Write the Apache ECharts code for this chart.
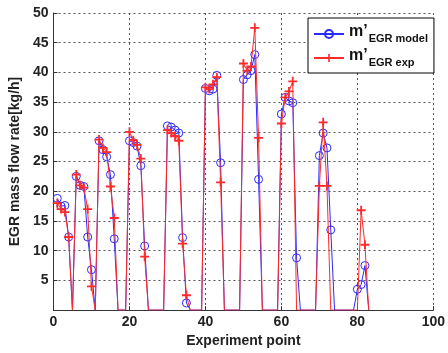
<!DOCTYPE html>
<html>
<head>
<meta charset="utf-8">
<script src="https://cdn.jsdelivr.net/npm/echarts@6/dist/echarts.min.js"></script>
<style>
html,body{margin:0;padding:0;background:#fff;}
#c{width:448px;height:353px;}
</style>
</head>
<body>
<div id="c"></div>
<script>
// Experiment point index
var expPoints = [1,2,3,4,5,6,7,8,9,10,11,12,13,14,15,16,17,18,19,20,21,22,23,24,25,26,27,28,29,30,31,32,33,34,35,36,37,38,39,40,41,42,43,44,45,46,47,48,49,50,51,52,53,54,55,56,57,58,59,60,61,62,63,64,65,66,67,68,69,70,71,72,73,74,75,76,77,78,79,80,81,82,83];
// m'EGR model [kg/h]
var modelValues = [18.8,17.5,17.6,12.3,0, 22.5,21.0,20.8,12.3,6.8,0, 28.5,27.0,25.8,22.8,12.0,0,0,0, 28.5,28.2,27.6,24.3,10.8,0,0,0,0,0, 31.0,30.8,30.3,29.8,12.2,1.2,0,0,0,0, 37.3,36.9,37.2,39.5,24.8,0,0,0,0,0, 38.8,39.6,40.3,43.0,22.0,0,0,0,0,0, 33.0,35.8,35.2,34.9,8.8,0,0,0,0,0, 26.0,29.8,27.3,13.5,0,0,0,0,0,0, 3.5,4.3,7.5,0];
// m'EGR exp [kg/h]
var expValues = [18.0,17.0,16.5,12.3,0, 22.8,21.0,20.6,17.0,4.0,0, 28.7,27.3,26.6,20.8,15.5,0,0,0, 30.0,28.6,27.8,25.5,9.0,0,0,0,0,0, 30.3,29.8,29.3,28.5,11.2,2.5,0,0,0,0, 37.5,37.2,38.0,39.2,21.5,0,0,0,0,0, 41.5,40.3,41.0,47.5,29.0,0,0,0,0,0, 31.4,35.8,36.8,38.5,0,0,0,0,0,0, 20.9,31.6,20.9,0,0,0,0,0,0,0, 0,16.8,11.0,0];
var xTicks = [0,20,40,60,80,100];
var yTicks = [5,10,15,20,25,30,35,40,45,50];
var seriesNames = ['EGR model','EGR exp'];

var FONT = '"Liberation Sans", Arial, sans-serif';
function build(vals){
  return expPoints.map(function(x,i){
    var v = vals[i];
    return v === 0 ? {value:[x,v], symbol:'none'} : {value:[x,v]};
  });
}
var chart = echarts.init(document.getElementById('c'), null, {renderer:'canvas'});
chart.setOption({
  animation:false,
  backgroundColor:'#fff',
  grid:{left:49,right:14,top:13,bottom:36},
  legend:{
    orient:'vertical', left:308, top:18,
    padding:[6,6,5,5], itemGap:4, itemWidth:30, itemHeight:10,
    borderColor:'#000', borderWidth:1, backgroundColor:'#fff',
    formatter:function(name){ return '{m|m\u2019}{s|'+name+'}'; },
    textStyle:{
      fontFamily:FONT, color:'#111',
      rich:{
        m:{fontSize:16,fontWeight:'bold',fontFamily:FONT,color:'#111',lineHeight:20,verticalAlign:'top'},
        s:{fontSize:11,fontWeight:'bold',fontFamily:FONT,color:'#111',lineHeight:20,verticalAlign:'bottom',padding:[8,0,0,1]}
      }
    },
    data:seriesNames
  },
  xAxis:{
    type:'value', min:0, max:100, interval:20,
    name:'Experiment point', nameLocation:'middle', nameGap:20,
    nameTextStyle:{fontFamily:FONT,fontWeight:'bold',fontSize:14,color:'#222'},
    axisLine:{show:true,onZero:false,lineStyle:{color:'#333',width:1}},
    axisTick:{show:true,inside:true,length:4,lineStyle:{color:'#333'}},
    axisLabel:{fontFamily:FONT,fontWeight:'bold',fontSize:14,color:'#222',margin:5,
      formatter:function(v){ return xTicks.indexOf(v)>=0 ? String(v) : ''; }},
    splitLine:{show:true,lineStyle:{color:'#555',type:[2,3],width:1}}
  },
  yAxis:{
    type:'value', min:0, max:50, interval:5,
    name:'EGR mass flow rate[kg/h]', nameLocation:'middle', nameGap:28,
    nameTextStyle:{fontFamily:FONT,fontWeight:'bold',fontSize:14,color:'#222'},
    axisLine:{show:true,lineStyle:{color:'#333',width:1}},
    axisTick:{show:true,inside:true,length:4,lineStyle:{color:'#333'}},
    axisLabel:{fontFamily:FONT,fontWeight:'bold',fontSize:14,color:'#222',margin:5,
      formatter:function(v){ return yTicks.indexOf(v)>=0 ? String(v) : ''; }},
    splitLine:{show:true,lineStyle:{color:'#555',type:[2,3],width:1}}
  },
  series:[
    {
      name:seriesNames[0], type:'line', data:build(modelValues),
      symbol:'circle', symbolSize:8,
      lineStyle:{color:'#2a2aff',width:1},
      itemStyle:{color:'rgba(0,0,0,0)',borderColor:'#2a2aff',borderWidth:1},
      z:2
    },
    {
      name:seriesNames[1], type:'line', data:build(expValues),
      symbol:'path://M4,0H6V4H10V6H6V10H4V6H0V4H4Z', symbolSize:9,
      lineStyle:{color:'#ff2a2a',width:1},
      itemStyle:{color:'#ff2a2a'},
      z:3
    }
  ]
});
</script>
</body>
</html>
